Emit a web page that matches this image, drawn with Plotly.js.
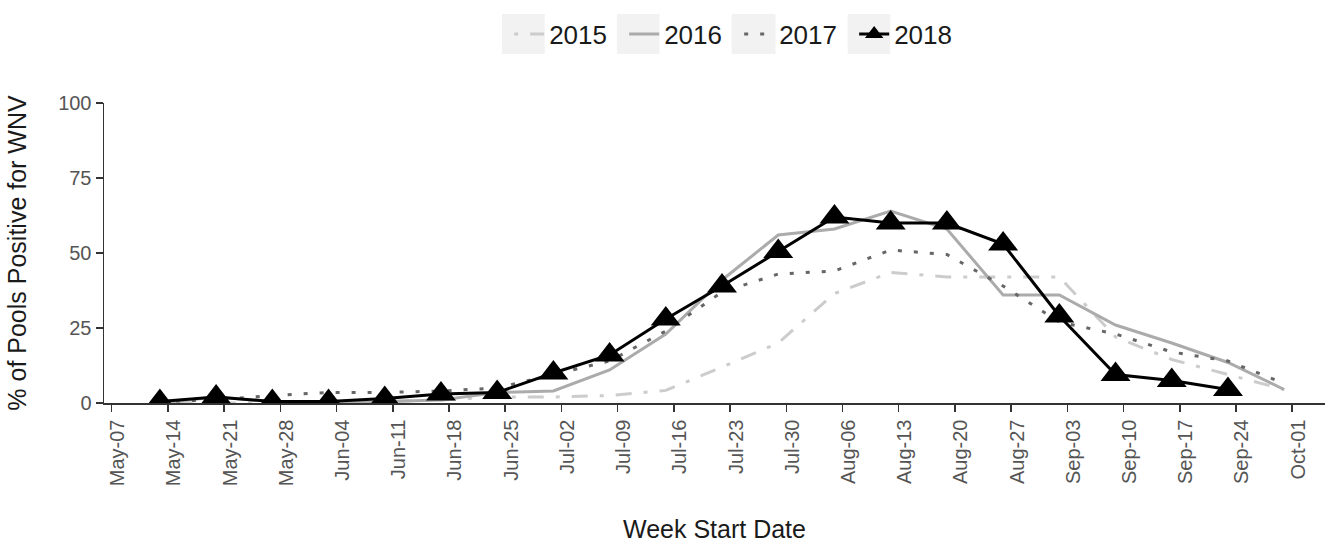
<!DOCTYPE html>
<html>
<head>
<meta charset="utf-8">
<script src="https://cdn.plot.ly/plotly-3.0.1.min.js"></script>
<style>html,body{margin:0;padding:0;background:#fff;}#chart{width:1329px;height:544px;}</style>
</head>
<body>
<div id="chart"></div>
<script>
var weeks = ['2018-05-13','2018-05-20','2018-05-27','2018-06-03','2018-06-10','2018-06-17','2018-06-24',
  '2018-07-01','2018-07-08','2018-07-15','2018-07-22','2018-07-29','2018-08-05','2018-08-12',
  '2018-08-19','2018-08-26','2018-09-02','2018-09-09','2018-09-16','2018-09-23','2018-09-30'];
var y2015 = [0, 0, 0, 0, 0.5, 1, 2, 2, 2.5, 4.2, 12, 20, 36.5, 43.5, 42, 42, 42, 22, 14.5, 9.5, 4.5];
var y2016 = [0, 2, 0.5, 0, 0.5, 1, 3.5, 4, 11, 23, 41, 56, 58, 64, 58, 36, 36, 26, 20, 13.5, 4.5];
var y2017 = [0.5, 1, 2.5, 3.5, 3.5, 4, 5, 9.5, 14, 24, 37, 43, 44, 51, 49.5, 39, 27, 23, 17, 14, 6.5];
var y2018 = [0.5, 2, 0.5, 0.5, 1.5, 3, 3.5, 10, 16, 28, 39, 50.5, 62, 60, 60, 53, 29, 9.5, 7.5, 4.5];
var seriesNames = ['2015', '2016', '2017', '2018'];
var yTicks = [0, 25, 50, 75, 100];

var FONT = 'Liberation Sans, Arial, sans-serif';
var traces = [
  {x: weeks, y: y2015, name: seriesNames[0], type: 'scatter', mode: 'lines',
   line: {color: '#cccccc', width: 3, dash: '4px,12px,16px,12px'}},
  {x: weeks, y: y2016, name: seriesNames[1], type: 'scatter', mode: 'lines',
   line: {color: '#ababab', width: 3}},
  {x: weeks, y: y2017, name: seriesNames[2], type: 'scatter', mode: 'lines',
   line: {color: '#666666', width: 3, dash: '4px,12px'}},
  {x: weeks.slice(0, y2018.length), y: y2018, name: seriesNames[3], type: 'scatter', mode: 'lines+markers',
   line: {color: '#000000', width: 3}, marker: {symbol: 'triangle-up', size: 26, color: '#000000'}}
];

// light grey legend key backgrounds (decoration, paper coordinates)
var keyBoxes = [[0.326, 0.361], [0.420, 0.455], [0.514, 0.550], [0.609, 0.644]];
var shapes = keyBoxes.map(function (b) {
  return {type: 'rect', xref: 'paper', yref: 'paper', x0: b[0], x1: b[1], y0: 1.163, y1: 1.297,
          fillcolor: '#f2f2f2', line: {width: 0}, layer: 'below'};
});

var layout = {
  width: 1329, height: 544,
  margin: {l: 104, r: 4, t: 103, b: 141},
  paper_bgcolor: '#ffffff', plot_bgcolor: 'rgba(0,0,0,0)',
  font: {family: FONT, color: '#1a1a1a'},
  showlegend: true,
  shapes: shapes,
  legend: {orientation: 'h', x: 0.5202, xanchor: 'center', y: 1.23, yanchor: 'middle',
           entrywidth: 70, entrywidthmode: 'pixels',
           font: {size: 26, color: '#1a1a1a', family: FONT}, bgcolor: 'rgba(0,0,0,0)'},
  xaxis: {
    type: 'date', range: ['2018-05-06 01:00', '2018-10-05 02:00'],
    tick0: '2018-05-07', dtick: 7 * 86400000, tickformat: '%b-%d', tickangle: -90,
    ticklabelshift: 6,
    showline: true, linecolor: '#333333', linewidth: 1.5, ticks: 'outside', ticklen: 7,
    tickcolor: '#333333', tickwidth: 1.5, showgrid: false, zeroline: false,
    tickfont: {size: 20, color: '#555555', family: FONT},
    title: {text: 'Week Start Date', font: {size: 25, color: '#1a1a1a', family: FONT}, standoff: 35}
  },
  yaxis: {
    range: [0, 100], tickvals: yTicks, ticktext: yTicks.map(String),
    showline: true, linecolor: '#333333', linewidth: 1.5, ticks: 'outside', ticklen: 7,
    tickcolor: '#333333', tickwidth: 1.5, showgrid: false, zeroline: false,
    tickfont: {size: 20, color: '#555555', family: FONT},
    title: {text: '% of Pools Positive for WNV', font: {size: 25, color: '#1a1a1a', family: FONT}, standoff: 24}
  }
};
Plotly.newPlot('chart', traces, layout, {displayModeBar: false, staticPlot: true});
</script>
</body>
</html>
